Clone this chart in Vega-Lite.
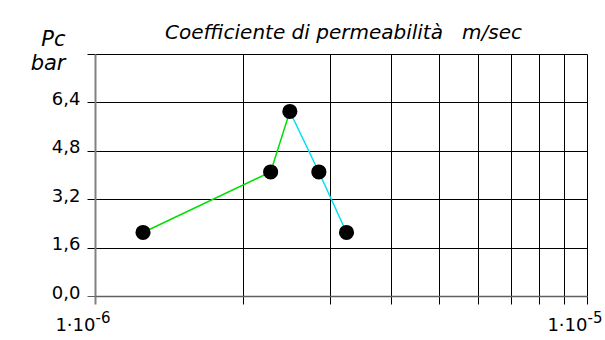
{
  "$schema": "https://vega.github.io/schema/vega-lite/v6.json",
  "width": 492,
  "height": 242,
  "autosize": "none",
  "padding": {"left": 95, "top": 54, "right": 18, "bottom": 44},
  "background": "white",
  "config": {"view": {"stroke": null}, "font": "DejaVu Sans"},
  "datasets": {
    "lines": [
      {"k": 1.252e-6, "pc": 2.1, "seg": "salita"},
      {"k": 2.275e-6, "pc": 4.1, "seg": "salita"},
      {"k": 2.489e-6, "pc": 6.1, "seg": "salita"},
      {"k": 2.489e-6, "pc": 6.1, "seg": "discesa"},
      {"k": 2.851e-6, "pc": 4.1, "seg": "discesa"},
      {"k": 3.245e-6, "pc": 2.1, "seg": "discesa"}
    ],
    "points": [
      {"k": 1.252e-6, "pc": 2.1},
      {"k": 2.275e-6, "pc": 4.1},
      {"k": 2.489e-6, "pc": 6.1},
      {"k": 2.851e-6, "pc": 4.1},
      {"k": 3.245e-6, "pc": 2.1}
    ]
  },
  "encoding": {
    "y": {
      "field": "pc",
      "type": "quantitative",
      "scale": {"domain": [0, 8], "nice": false, "zero": true},
      "axis": {
        "values": [0, 1.6, 3.2, 4.8, 6.4, 8],
        "grid": true,
        "gridColor": {"condition": {"test": "datum.value === 0", "value": "#606060"}, "value": "#000000"},
        "gridWidth": 1,
        "gridOpacity": 1,
        "domain": true,
        "domainColor": "#808080",
        "domainWidth": 2,
        "ticks": true,
        "tickSize": 8,
        "tickColor": {"condition": {"test": "datum.value === 0", "value": "#606060"}, "value": "#000000"},
        "tickWidth": 1,
        "labelExpr": "datum.value > 7 ? '' : replace(format(datum.value, '.1f'), '.', ',')",
        "labelFont": "DejaVu Sans",
        "labelFontSize": 18,
        "labelColor": "#000000",
        "labelPadding": 7,
        "labelBaseline": "alphabetic",
        "labelOffset": 2,
        "labelOverlap": false,
        "labelBound": false,
        "title": ["Pc", "bar"],
        "titleFont": "DejaVu Sans",
        "titleAngle": 0,
        "titleFontStyle": "italic",
        "titleFontWeight": "normal",
        "titleFontSize": 21,
        "titleColor": "#000000",
        "titleAlign": "right",
        "titleBaseline": "alphabetic",
        "titleX": -30,
        "titleY": -9,
        "titleLineHeight": 24
      }
    }
  },
  "layer": [
    {
      "data": {"name": "lines"},
      "transform": [{"filter": "datum.seg === 'salita'"}],
      "mark": {"type": "line", "color": "#00e000", "strokeWidth": 1.5},
      "encoding": {
        "x": {
          "field": "k",
          "type": "quantitative",
          "scale": {"type": "log", "domain": [1e-6, 1e-5], "nice": false},
          "axis": {
            "orient": "bottom",
            "values": [1e-6, 2e-6, 3e-6, 4e-6, 5e-6, 6e-6, 7e-6, 8e-6, 9e-6, 1e-5],
            "grid": true,
            "gridColor": {"condition": {"test": "datum.value < 1.5e-6", "value": "#808080"}, "value": "#000000"},
            "gridWidth": 1,
            "gridOpacity": 1,
            "domain": true,
            "domainColor": "#606060",
            "domainWidth": 1.5,
            "ticks": true,
            "tickSize": 8,
            "tickColor": {"condition": {"test": "datum.value < 1.5e-6", "value": "#808080"}, "value": "#000000"},
            "tickWidth": {"condition": {"test": "datum.value < 1.5e-6", "value": 2}, "value": 1},
            "labelExpr": "(datum.value < 1.5e-6 || datum.value > 9.5e-6) ? '1·10' : ''",
            "labelFont": "DejaVu Sans",
            "labelAlign": "right",
            "labelBaseline": "alphabetic",
            "labelPadding": 26,
            "labelFontSize": 18,
            "labelColor": "#000000",
            "labelFlush": false,
            "labelOverlap": false,
            "labelBound": false,
            "title": null
          }
        }
      }
    },
    {
      "data": {"name": "lines"},
      "transform": [{"filter": "datum.seg === 'discesa'"}],
      "mark": {"type": "line", "color": "#00e0f0", "strokeWidth": 1.5},
      "encoding": {
        "x": {
          "field": "k",
          "type": "quantitative",
          "scale": {"type": "log", "domain": [1e-6, 1e-5], "nice": false},
          "axis": {
            "orient": "top",
            "domain": false,
            "ticks": false,
            "labels": false,
            "grid": false,
            "title": "Coefficiente di permeabilità\u00a0\u00a0\u00a0m/sec",
            "titleFont": "DejaVu Sans",
            "titleFontStyle": "italic",
            "titleFontWeight": "normal",
            "titleFontSize": 20,
            "titleColor": "#000000",
            "titleAlign": "center",
            "titleBaseline": "alphabetic",
            "titleX": 248,
            "titleY": -16
          }
        }
      }
    },
    {
      "data": {"name": "points"},
      "mark": {"type": "circle", "color": "#000000", "opacity": 1, "size": 230},
      "encoding": {
        "x": {
          "field": "k",
          "type": "quantitative",
          "scale": {"type": "log", "domain": [1e-6, 1e-5], "nice": false},
          "axis": {
            "orient": "bottom",
            "values": [1e-6, 1e-5],
            "grid": false,
            "domain": false,
            "ticks": true,
            "tickSize": 8,
            "tickOpacity": 0,
            "labelExpr": "datum.value < 1.5e-6 ? '-6' : '-5'",
            "labelFont": "DejaVu Sans",
            "labelAlign": "left",
            "labelBaseline": "alphabetic",
            "labelPadding": 18,
            "labelFontSize": 15,
            "labelColor": "#000000",
            "labelFlush": false,
            "labelOverlap": false,
            "labelBound": false,
            "labelOffset": 0,
            "title": null
          }
        }
      }
    }
  ],
  "resolve": {"scale": {"x": "independent"}}
}
